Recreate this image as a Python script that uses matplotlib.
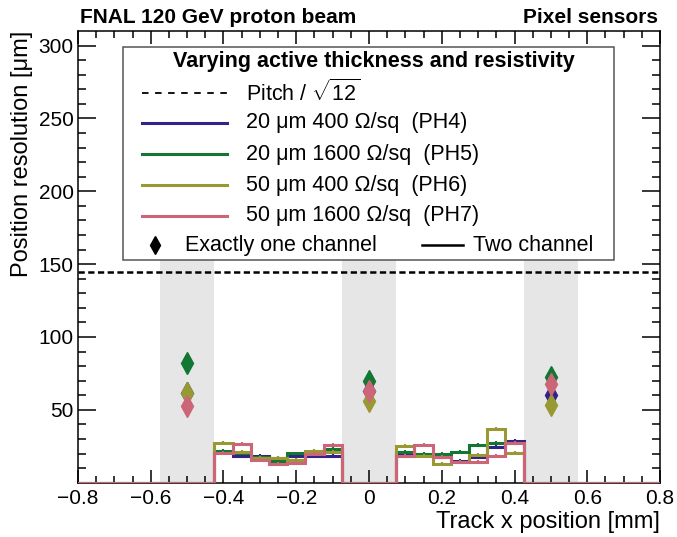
import numpy as np
import matplotlib
matplotlib.use("Agg")
import matplotlib.pyplot as plt
from matplotlib.patches import Rectangle
from matplotlib.lines import Line2D

plt.rcParams.update({"font.family": ["Liberation Sans", "DejaVu Sans"],
                     "mathtext.fontset": "custom", "mathtext.rm": "Liberation Sans",
                     "lines.scale_dashes": False})

# ---------- data ----------
sensors = ["PH4", "PH5", "PH6", "PH7"]
labels = ["20 \u03bcm 400 \u03a9/sq  (PH4)", "20 \u03bcm 1600 \u03a9/sq  (PH5)",
          "50 \u03bcm 400 \u03a9/sq  (PH6)", "50 \u03bcm 1600 \u03a9/sq  (PH7)"]
colors = ["#332288", "#117733", "#999933", "#CC6677"]

# two-channel resolution, 0.05 mm bins from -0.425 to -0.075 and 0.075 to 0.425
left_edges = np.arange(-0.425, -0.074, 0.05)
right_edges = np.arange(0.075, 0.426, 0.05)
two_left = {
    "PH4": [21.3, 18.4, 18.6, 16.8, 18.4, 18.4, 18.4],
    "PH5": [22.0, 20.6, 17.9, 15.1, 20.2, 21.3, 23.0],
    "PH6": [27.1, 21.3, 16.8, 17.2, 15.6, 22.0, 21.3],
    "PH7": [20.6, 26.6, 15.6, 12.9, 13.8, 19.7, 25.9],
}
two_right = {
    "PH4": [20.2, 19.0, 17.4, 15.1, 17.9, 24.4, 28.7],
    "PH5": [21.3, 19.7, 19.7, 21.3, 25.9, 27.1, 27.1],
    "PH6": [25.3, 18.4, 12.7, 14.4, 19.0, 37.0, 20.6],
    "PH7": [18.4, 25.9, 17.9, 14.0, 14.4, 18.4, 27.5],
}
# exactly-one-channel resolution at pad centres
one_x = [-0.5, 0.0, 0.5]
one_res = {
    "PH4": [61.5, 62.6, 60.4],
    "PH5": [82.2, 69.5, 72.3],
    "PH6": [61.5, 56.2, 53.5],
    "PH7": [52.8, 62.6, 67.7],
}
pitch = 500.0
bands = [-0.5, 0.0, 0.5]
band_half = 0.075

# ---------- figure ----------
fig = plt.figure(figsize=(6.77, 5.37), dpi=100)
ax = fig.add_axes([0.1152, 0.1011, 0.9749 - 0.1152, 0.9423 - 0.1011])
ax.set_xlim(-0.8, 0.8)
ax.set_ylim(0, 310)

for c in bands:
    ax.fill_between([c - band_half, c + band_half], 0, 200, color="#e6e6e6", lw=0, zorder=0)

ax.axhline(pitch / np.sqrt(12), color="k", lw=1.8, dashes=(4.5, 2.5), zorder=2)

edges = np.round(np.arange(-0.825, 0.826, 0.05), 3)
centers = 0.5 * (edges[:-1] + edges[1:])
for s, col in zip(sensors, colors):
    vals = np.zeros(len(centers))
    errs = np.zeros(len(centers))
    for e0, v in zip(left_edges, two_left[s]):
        i = np.argmin(abs(edges[:-1] - e0)); vals[i] = v; errs[i] = 1.2
    for e0, v in zip(right_edges, two_right[s]):
        i = np.argmin(abs(edges[:-1] - e0)); vals[i] = v; errs[i] = 1.2
    st = ax.stairs(vals, edges, color=col, lw=2.2, zorder=3)
    m = errs > 0
    ax.errorbar(centers[m], vals[m], yerr=errs[m], fmt="none", ecolor=col, elinewidth=1.5, zorder=3)
for s, col in zip(sensors, colors):
    ax.plot(one_x, one_res[s], "d", color=col, ms=11, mec=col, zorder=4)

ax.set_xticks(np.arange(-0.8, 0.81, 0.2))
ax.set_xticks(np.arange(-0.8, 0.81, 0.05), minor=True)
ax.set_yticks(np.arange(50, 301, 50))
ax.set_yticks(np.arange(10, 310, 10), minor=True)
ax.set_xticklabels(["\u22120.8", "\u22120.6", "\u22120.4", "\u22120.2", "0", "0.2", "0.4", "0.6", "0.8"])
ax.tick_params(axis="both", which="both", direction="in", top=True, right=True, width=1.1,
               labelsize=15)
ax.tick_params(axis="x", which="major", length=9.4, pad=4.5)
ax.tick_params(axis="x", which="minor", length=5)
ax.tick_params(axis="y", which="major", length=13, pad=3)
ax.tick_params(axis="y", which="minor", length=6)
for sp in ax.spines.values():
    sp.set_linewidth(1.1)

fig.text(0.033, 0.9423, "Position resolution [\u03bcm]", rotation=90, ha="center", va="top", fontsize=17)
fig.text(0.9749, 0.028, "Track x position [mm]", ha="right", va="center", fontsize=17)
fig.text(0.118, 0.9665, "FNAL 120 GeV proton beam", ha="left", va="center", fontsize=15, weight="bold")
fig.text(0.9720, 0.9665, "Pixel sensors", ha="right", va="center", fontsize=15, weight="bold")

# ---------- legend ----------
T = ax.transAxes
fs = 15.5
ax.add_patch(Rectangle((0.0768, 0.493), 0.921 - 0.0768, 0.965 - 0.493, transform=T,
                       facecolor="white", edgecolor="#555555", lw=1.1, zorder=10))
ax.text(0.5086, 0.932, "Varying active thickness and resistivity", transform=T, ha="center",
        va="center", fontsize=fs, weight="bold", zorder=11)
rows = [0.863, 0.797, 0.727, 0.659, 0.591]
ax.add_line(Line2D([0.1094, 0.256], [rows[0]] * 2, transform=T, color="k", lw=1.3,
                   dashes=(4.7, 4.7), zorder=11))
ax.text(0.289, rows[0], r"Pitch / $\sqrt{12}$", transform=T, va="center", fontsize=fs, zorder=11)
for r, lab, col in zip(rows[1:], labels, colors):
    ax.add_line(Line2D([0.1094, 0.256], [r] * 2, transform=T, color=col, lw=2.2, zorder=11))
    ax.text(0.289, r, lab, transform=T, va="center", fontsize=fs, zorder=11)
ax.add_line(Line2D([0.1323], [0.526], transform=T, marker="d", color="k", ms=9, zorder=11))
ax.text(0.184, 0.526, "Exactly one channel", transform=T, va="center", fontsize=fs, zorder=11)
ax.add_line(Line2D([0.5905, 0.6615], [0.526] * 2, transform=T, color="k", lw=1.8, zorder=11))
ax.text(0.679, 0.526, "Two channel", transform=T, va="center", fontsize=fs, zorder=11)

fig.savefig("out.png", dpi=100)
